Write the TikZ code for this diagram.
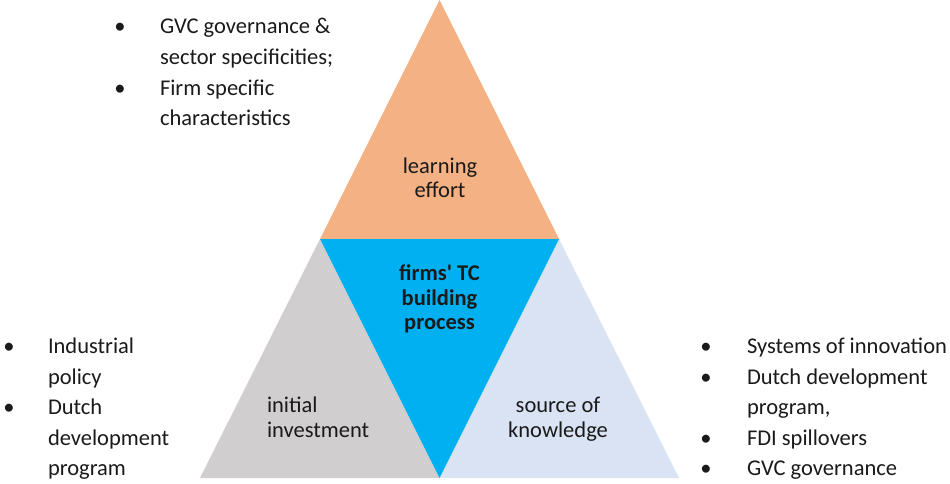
\documentclass[tikz,border=0pt]{standalone}
\usepackage{fontspec}
\setmainfont{Carlito}[Ligatures=TeXOff]
\definecolor{learnC}{HTML}{F4B183}
\definecolor{initC}{HTML}{D0CECE}
\definecolor{coreC}{HTML}{00B0F0}
\definecolor{srcC}{HTML}{DAE3F3}
\definecolor{inkC}{HTML}{1A1A1A}
\begin{document}
\begin{tikzpicture}[x=1pt,y=-1pt,
  every node/.style={inner sep=0pt,outer sep=0pt,text=inkC,font=\fontsize{22.5}{24}\selectfont},
  ln/.style={anchor=base west},
  lc/.style={anchor=base},
  bul/.style={anchor=base}]
\useasboundingbox (0,0) rectangle (950,483);
% triangle vertices
\coordinate (apex) at (439.5,0);
\coordinate (ml) at (320,239);
\coordinate (mr) at (559,239);
\coordinate (bl) at (200,478);
\coordinate (bm) at (439.5,478);
\coordinate (br) at (679,478);
\fill[learnC] (apex) -- (ml) -- (mr) -- cycle;
\fill[initC] (ml) -- (bl) -- (bm) -- cycle;
\fill[srcC] (mr) -- (bm) -- (br) -- cycle;
\fill[coreC] (ml) -- (mr) -- (bm) -- cycle;
% triangle labels
\node[lc] (le1) at (440,173) {learning};
\node[lc] (le2) at (440,197) {effort};
\node[lc,font=\fontsize{22.5}{24}\selectfont\bfseries] (c1) at (439.5,280) {firms' TC};
\node[lc,font=\fontsize{22.5}{24}\selectfont\bfseries] (c2) at (439.5,305) {building};
\node[lc,font=\fontsize{22.5}{24}\selectfont\bfseries] (c3) at (439.5,329) {process};
\node[ln] (i1) at (267,412) {initial};
\node[ln] (i2) at (267,437) {investment};
\node[lc] (s1) at (558,412) {source of};
\node[lc] (s2) at (558,437) {knowledge};
% top-left list
\node[bul] (tb1) at (120,33) {•};
\node[ln] (t1) at (160,33) {GVC governance \&};
\node[ln] (t2) at (160,64) {sector specificities;};
\node[bul] (tb2) at (120,95) {•};
\node[ln] (t3) at (160,95) {Firm specific};
\node[ln] (t4) at (160,125) {characteristics};
% bottom-left list
\node[bul] (lb1) at (9,353) {•};
\node[ln] (l1) at (48,353) {Industrial};
\node[ln] (l2) at (48,384) {policy};
\node[bul] (lb2) at (9,414) {•};
\node[ln] (l3) at (48,414) {Dutch};
\node[ln] (l4) at (48,445) {development};
\node[ln] (l5) at (48,475) {program};
% bottom-right list
\node[bul] (rb1) at (706,353) {•};
\node[ln] (r1) at (747,353) {Systems of innovation};
\node[bul] (rb2) at (706,384) {•};
\node[ln] (r2) at (747,384) {Dutch development};
\node[ln] (r3) at (747,414) {program,};
\node[bul] (rb3) at (706,445) {•};
\node[ln] (r4) at (747,445) {FDI spillovers};
\node[bul] (rb4) at (706,475) {•};
\node[ln] (r5) at (747,475) {GVC governance};
\end{tikzpicture}
\end{document}
